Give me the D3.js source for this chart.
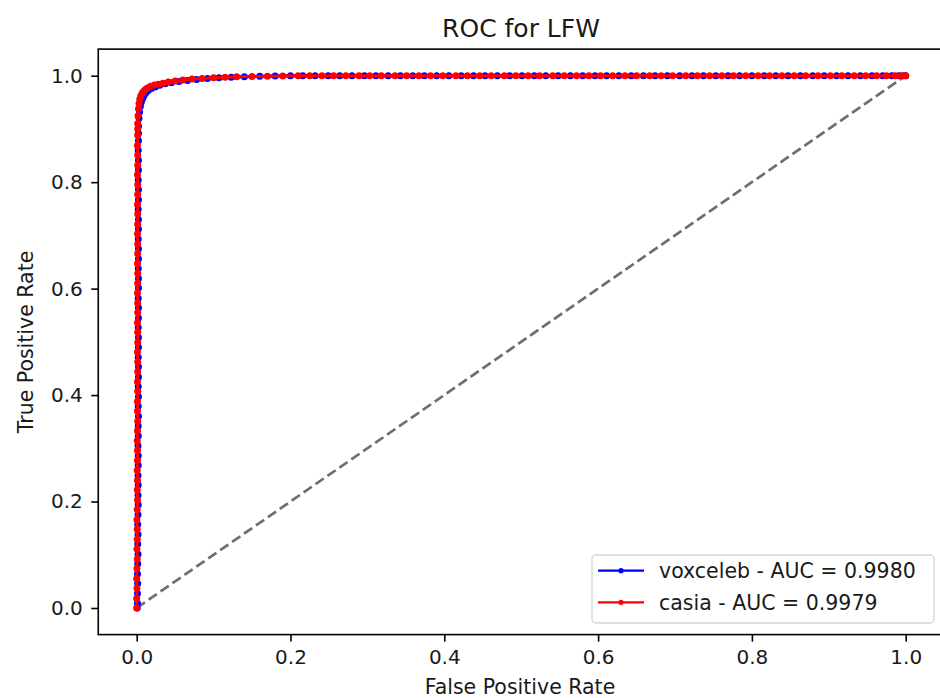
<!DOCTYPE html>
<html>
<head>
<meta charset="utf-8">
<script src="https://cdn.jsdelivr.net/npm/d3@7"></script>
<style>
  body { margin: 0; background: #fff; }
  text { font-family: "DejaVu Sans", sans-serif; fill: #1a1a1a; }
</style>
</head>
<body>
<script>
// ROC points, [fpr, tpr]
var voxcelebPoints = [
  [0.0007,0],[0.001,0.009],[0.001,0.027],[0.0013,0.046],[0.001,0.064],[0.0013,0.083],[0.0017,0.101],[0.0013,0.12],
  [0.0017,0.138],[0.0013,0.157],[0.0017,0.175],[0.002,0.194],[0.0017,0.212],[0.002,0.231],[0.0017,0.249],[0.002,0.268],
  [0.002,0.286],[0.0017,0.305],[0.002,0.323],[0.002,0.342],[0.0023,0.36],[0.002,0.379],[0.0023,0.397],[0.002,0.416],
  [0.0023,0.434],[0.0023,0.453],[0.002,0.471],[0.0023,0.49],[0.0023,0.508],[0.002,0.527],[0.0023,0.545],[0.0023,0.564],
  [0.002,0.582],[0.0023,0.601],[0.0023,0.619],[0.002,0.638],[0.0023,0.656],[0.0023,0.675],[0.002,0.693],[0.0023,0.712],
  [0.0023,0.73],[0.002,0.749],[0.0023,0.767],[0.0023,0.786],[0.002,0.804],[0.0023,0.823],[0.0023,0.841],[0.002,0.86],
  [0.0023,0.878],[0.0023,0.892],
  [0.0023,0.905],[0.003,0.92],[0.0037,0.932],[0.0047,0.942],[0.006,0.95],[0.0077,0.957],[0.0097,0.963],[0.012,0.968],
  [0.015,0.972],[0.019,0.976],[0.024,0.979],[0.03,0.982],[0.037,0.985],[0.045,0.987],[0.055,0.989],[0.066,0.991],
  [0.078,0.993],[0.092,0.995],[0.107,0.996],[0.123,0.997],[0.14,0.998],[0.16,0.9988],[0.18,0.9993],[0.2,1],
  [0.216,1],[0.232,1],[0.249,1],[0.264,1],[0.28,1],[0.296,1],[0.311,1],[0.327,1],[0.343,1],[0.359,1],[0.374,1],
  [0.39,1],[0.406,1],[0.422,1],[0.438,1],[0.453,1],[0.469,1],[0.485,1],[0.501,1],[0.517,1],[0.532,1],[0.548,1],
  [0.564,1],[0.58,1],[0.596,1],[0.611,1],[0.627,1],[0.643,1],[0.659,1],[0.674,1],[0.69,1],[0.706,1],[0.722,1],
  [0.737,1],[0.753,1],[0.769,1],[0.784,1],[0.8,1],[0.816,1],[0.831,1],[0.847,1],[0.863,1],[0.879,1],[0.894,1],
  [0.91,1],[0.925,1],[0.941,1],[0.956,1],[0.97,1],[0.982,1],[0.991,1],[0.997,1],[1,1]
];

var casiaPoints = [
  [0,0],[0,0.018],[0.0003,0.037],[0,0.055],[0.0003,0.074],[0.0007,0.092],[0.0003,0.111],[0.0007,0.129],
  [0.0007,0.148],[0.0003,0.166],[0.0007,0.185],[0.001,0.203],[0.0007,0.222],[0.001,0.24],[0.0007,0.259],[0.001,0.277],
  [0.001,0.296],[0.0007,0.314],[0.001,0.333],[0.0013,0.351],[0.001,0.37],[0.001,0.388],[0.0013,0.407],[0.001,0.425],
  [0.0013,0.444],[0.0013,0.462],[0.001,0.481],[0.0013,0.499],[0.0013,0.518],[0.001,0.536],[0.0013,0.555],[0.0013,0.573],
  [0.001,0.592],[0.0013,0.61],[0.0013,0.629],[0.001,0.647],[0.0013,0.666],[0.0013,0.684],[0.001,0.703],[0.0013,0.721],
  [0.0013,0.74],[0.001,0.758],[0.0013,0.777],[0.0013,0.795],[0.001,0.814],[0.0013,0.832],[0.0013,0.851],[0.001,0.869],
  [0.0013,0.888],[0.0013,0.9],
  [0.0013,0.91],[0.0017,0.925],[0.0023,0.938],[0.003,0.948],[0.004,0.956],[0.0053,0.962],[0.007,0.967],[0.009,0.971],
  [0.0113,0.974],[0.014,0.977],[0.018,0.98],[0.023,0.9825],[0.028,0.984],[0.034,0.986],[0.041,0.988],[0.05,0.99],
  [0.06,0.992],[0.072,0.994],[0.085,0.995],[0.1,0.996],[0.115,0.997],[0.13,0.998],[0.15,0.9985],[0.17,0.999],
  [0.19,0.9995],[0.21,1],
  [0.225,1],[0.241,1],[0.256,1],[0.272,1],[0.289,1],[0.303,1],[0.318,1],[0.336,1],[0.351,1],[0.367,1],[0.382,1],
  [0.398,1],[0.415,1],[0.43,1],[0.446,1],[0.461,1],[0.478,1],[0.493,1],[0.509,1],[0.524,1],[0.541,1],[0.556,1],
  [0.572,1],[0.588,1],[0.603,1],[0.619,1],[0.635,1],[0.65,1],[0.667,1],[0.682,1],[0.697,1],[0.714,1],[0.729,1],
  [0.745,1],[0.761,1],[0.776,1],[0.792,1],[0.808,1],[0.823,1],[0.839,1],[0.855,1],[0.87,1],[0.886,1],[0.902,1],
  [0.917,1],[0.933,1],[0.948,1],[0.962,1],[0.975,1],[0.986,1],[0.994,1],[1,1]
];

var chanceLine = [[0,0],[1,1]];
var xTicks = [0, 0.2, 0.4, 0.6, 0.8, 1.0];
var yTicks = [0, 0.2, 0.4, 0.6, 0.8, 1.0];
var seriesNames = ["voxceleb - AUC = 0.9980", "casia - AUC = 0.9979"];
var seriesColors = ["#0000ff", "#ff0000"];

var W = 940, H = 698;

var svg = d3.select("body")
    .append("svg")
    .attr("width", W)
    .attr("height", H);

var x = d3.scaleLinear()
    .domain([-0.05, 1.05])
    .range([98.25, 944.15]);

var y = d3.scaleLinear()
    .domain([-0.05, 1.05])
    .range([634.6, 49.1]);

var line = d3.line()
    .x(function (d) { return x(d[0]); })
    .y(function (d) { return y(d[1]); });

// dashed chance line
svg.append("path")
    .datum(chanceLine)
    .attr("d", line)
    .attr("fill", "none")
    .attr("stroke", "#6e6e6e")
    .attr("stroke-width", 2.7)
    .attr("stroke-dasharray", "10,4.5");

// curves with point markers
[voxcelebPoints, casiaPoints].forEach(function (pts, i) {
    var g = svg.append("g");
    g.append("path")
        .datum(pts)
        .attr("d", line)
        .attr("fill", "none")
        .attr("stroke", seriesColors[i])
        .attr("stroke-width", 3);
    g.selectAll("circle")
        .data(pts)
        .enter().append("circle")
        .attr("cx", function (d) { return x(d[0]); })
        .attr("cy", function (d) { return y(d[1]); })
        .attr("r", 3.5)
        .attr("fill", seriesColors[i]);
});

// axes
var xAxis = svg.append("g")
    .attr("transform", "translate(0," + y.range()[0] + ")")
    .call(d3.axisBottom(x).tickValues(xTicks).tickFormat(d3.format(".1f"))
        .tickSize(7).tickSizeOuter(0).tickPadding(8.5));
var yAxis = svg.append("g")
    .attr("transform", "translate(" + x.range()[0] + ",0)")
    .call(d3.axisLeft(y).tickValues(yTicks).tickFormat(d3.format(".1f"))
        .tickSize(7).tickSizeOuter(0).tickPadding(8.5));

[xAxis, yAxis].forEach(function (a) {
    a.select(".domain").remove();
    a.selectAll(".tick line").attr("stroke", "#000").attr("stroke-width", 1.6);
    a.selectAll(".tick text")
        .attr("font-family", "DejaVu Sans")
        .attr("font-size", 20)
        .attr("fill", "#1a1a1a");
});

// frame
svg.append("rect")
    .attr("x", x.range()[0])
    .attr("y", y.range()[1])
    .attr("width", x.range()[1] - x.range()[0])
    .attr("height", y.range()[0] - y.range()[1])
    .attr("fill", "none")
    .attr("stroke", "#000")
    .attr("stroke-width", 1.6);

// labels
svg.append("text")
    .attr("x", 521)
    .attr("y", 37)
    .attr("text-anchor", "middle")
    .attr("font-size", 25)
    .text("ROC for LFW");

svg.append("text")
    .attr("x", 520)
    .attr("y", 694)
    .attr("text-anchor", "middle")
    .attr("font-size", 20.5)
    .text("False Positive Rate");

svg.append("text")
    .attr("transform", "translate(33,342) rotate(-90)")
    .attr("text-anchor", "middle")
    .attr("font-size", 20.5)
    .text("True Positive Rate");

// legend
var legend = svg.append("g");
legend.append("rect")
    .attr("x", 592)
    .attr("y", 555)
    .attr("width", 342)
    .attr("height", 68)
    .attr("rx", 4)
    .attr("fill", "#fff")
    .attr("fill-opacity", 0.85)
    .attr("stroke", "#d6d6d6")
    .attr("stroke-width", 1.3);

seriesNames.forEach(function (name, i) {
    var ly = 570.7 + i * 31.6;
    legend.append("line")
        .attr("x1", 598).attr("x2", 644)
        .attr("y1", ly).attr("y2", ly)
        .attr("stroke", seriesColors[i])
        .attr("stroke-width", 2.25);
    legend.append("circle")
        .attr("cx", 621).attr("cy", ly)
        .attr("r", 2.6)
        .attr("fill", seriesColors[i]);
    legend.append("text")
        .attr("x", 659)
        .attr("y", ly + 7.5)
        .attr("font-size", 20.5)
        .text(name);
});
</script>
</body>
</html>
